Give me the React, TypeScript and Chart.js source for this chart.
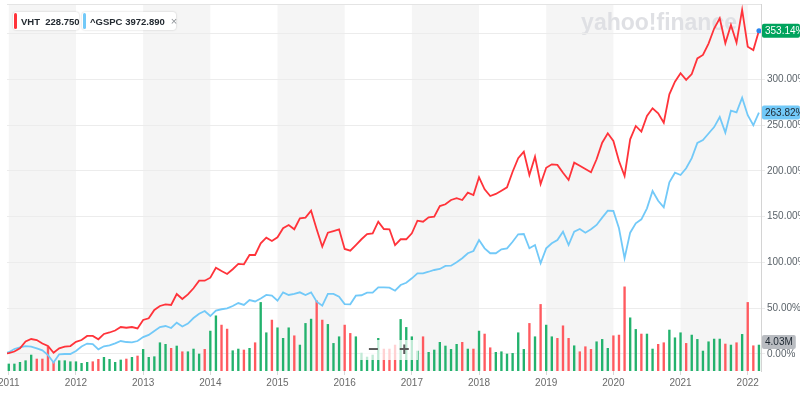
import React, { useEffect, useRef } from 'react';
import { Chart, registerables } from 'chart.js';

Chart.register(...registerables);

// ---- data (monthly, first value = Dec 2010 base, then Jan 2011 .. Mar 2022) ----
const yearLabels = ['2011', '2012', '2013', '2014', '2015', '2016', '2017', '2018', '2019', '2020', '2021', '2022'];
const firstMonthIndex = -1; // Dec 2010 (0 = Jan 2011)

const vhtPct = [
  0,
  1.0, 2.7, 6.2, 13.7, 16.4, 15.3, 11.5, 8.7, 1.4, 6.2, 8.0, 8.7,
  13.3, 15.3, 19.7, 19.7, 16.1, 21.9, 23.5, 25.7, 29.5, 28.7, 29.5, 27.9,
  37.2, 39.0, 48.1, 52.5, 54.3, 53.6, 65.6, 60.1, 65.2, 71.8, 80.1, 80.1,
  83.4, 94.3, 90.7, 87.4, 92.6, 98.4, 98.0, 108.2, 108.2, 121.0, 127.1, 123.5,
  127.5, 137.4, 141.0, 136.3, 148.3, 149.0, 156.6, 136.3, 117.3, 132.6, 134.4, 136.3,
  114.8, 112.9, 119.1, 125.4, 131.1, 131.9, 144.6, 136.6, 136.3, 119.1, 125.4, 125.4,
  131.9, 145.7, 144.6, 149.4, 150.1, 161.7, 163.6, 168.3, 170.2, 168.3, 176.3, 173.8,
  193.1, 180.0, 172.7, 174.9, 178.5, 182.2, 199.2, 213.9, 221.1, 195.6, 215.6, 185.8,
  203.5, 207.3, 206.6, 198.1, 190.2, 209.1, 205.8, 202.2, 198.6, 212.8, 230.9, 241.2,
  232.8, 210.9, 194.5, 234.6, 249.2, 243.0, 260.1, 268.5, 263.1, 252.8, 283.8, 297.6,
  306.8, 299.5, 306.0, 323.0, 326.8, 339.3, 355.7, 366.9, 339.6, 359.6, 340.2, 376.0,
  335.8, 332.2, 353.14,
];

const gspcPct = [
  0,
  2.0, 5.5, 7.3, 8.5, 8.1, 6.2, 4.0, -1.1, -9.3, -0.3, 0.0, 0.0,
  3.3, 8.2, 11.4, 10.9, 5.1, 8.4, 9.5, 11.6, 14.2, 13.1, 12.8, 14.2,
  18.5, 20.8, 25.1, 29.5, 30.6, 28.4, 34.2, 30.1, 33.3, 39.3, 44.0, 47.0,
  41.5, 47.5, 48.9, 49.8, 52.5, 55.7, 53.6, 59.0, 57.4, 60.7, 64.5, 63.8,
  58.3, 67.4, 64.5, 65.6, 67.4, 64.5, 67.4, 57.2, 52.8, 65.6, 65.6, 62.6,
  54.6, 54.3, 63.7, 64.2, 67.0, 67.0, 72.9, 72.9, 72.5, 69.2, 75.4, 77.9,
  82.7, 88.2, 88.2, 89.9, 91.8, 92.9, 96.2, 96.5, 100.2, 104.6, 110.1, 112.6,
  124.6, 115.5, 110.1, 110.1, 114.4, 115.5, 122.7, 130.8, 131.1, 115.5, 119.1, 99.1,
  115.5, 121.0, 124.6, 133.7, 119.1, 133.7, 136.6, 132.6, 136.3, 141.0, 149.0, 156.6,
  156.3, 137.4, 104.6, 132.6, 142.8, 147.2, 159.2, 178.1, 167.5, 160.3, 187.7, 198.1,
  195.6, 203.0, 214.0, 230.6, 233.9, 241.0, 248.0, 259.0, 242.0, 266.0, 264.0, 280.0,
  261.0, 250.0, 263.82,
];

// VHT monthly volume in millions, Jan 2011 .. Mar 2022
const volumeM = [
  1.09, 1.09, 1.35, 1.60, 2.48, 1.86, 1.86, 3.77, 1.35, 1.60, 1.60, 1.44,
  1.44, 1.19, 1.35, 1.44, 1.81, 2.12, 1.81, 1.35, 1.71, 1.86, 2.12, 2.33,
  3.36, 2.12, 2.22, 4.39, 4.14, 3.52, 3.88, 2.99, 2.99, 3.41, 2.64, 3.36,
  6.20, 8.57, 7.13, 6.51, 3.15, 3.41, 3.26, 3.52, 4.39, 10.65, 5.94, 7.91,
  6.71, 5.07, 6.71, 5.47, 4.03, 7.39, 8.06, 10.90, 7.91, 7.24, 4.29, 5.32,
  7.13, 5.84, 5.32, 2.79, 2.17, 2.48, 5.07, 3.41, 3.41, 4.03, 8.01, 6.77,
  5.32, 3.10, 5.32, 2.90, 3.26, 4.45, 3.88, 3.36, 4.14, 4.45, 3.41, 3.41,
  6.20, 5.74, 3.61, 2.90, 2.99, 2.64, 2.74, 5.94, 3.36, 7.39, 5.32, 10.34,
  7.13, 5.32, 5.07, 7.02, 5.07, 3.92, 2.99, 3.77, 3.36, 4.54, 4.91, 3.52,
  5.47, 5.58, 13.07, 8.26, 6.46, 5.74, 5.74, 3.41, 4.14, 4.39, 6.36, 5.16,
  5.94, 4.29, 5.58, 4.91, 3.10, 4.54, 4.96, 4.96, 4.19, 4.03, 4.39, 5.69,
  10.65, 3.92, 4.03,
];

// 1 = up month (green bar), 0 = down month (red bar)
const volumeUp = [
  1, 1, 1, 1, 1, 0, 0, 0, 0, 1, 1, 1,
  1, 1, 1, 0, 0, 1, 1, 1, 1, 0, 1, 0,
  1, 1, 1, 1, 1, 0, 1, 0, 1, 1, 1, 0,
  1, 1, 0, 0, 1, 1, 0, 1, 0, 1, 1, 0,
  1, 1, 1, 0, 1, 1, 1, 0, 0, 1, 1, 1,
  0, 0, 1, 1, 1, 1, 1, 0, 0, 0, 1, 1,
  1, 1, 0, 1, 1, 1, 1, 1, 1, 0, 1, 0,
  1, 0, 0, 1, 1, 1, 1, 1, 1, 0, 1, 0,
  1, 1, 0, 0, 0, 1, 0, 0, 0, 1, 1, 1,
  0, 0, 0, 1, 1, 0, 1, 1, 0, 0, 1, 1,
  1, 0, 1, 1, 1, 1, 1, 1, 0, 1, 0, 1,
  0, 0, 1,
];

const yTickValues = [0, 50, 100, 150, 200, 250, 300, 350];
const vhtName = 'VHT';
const vhtPrice = '228.750';
const gspcName = '^GSPC';
const gspcPrice = '3972.890';
const watermark = 'yahoo!finance';

// ---- styles ----
const RED = '#ff333a';
const BLUE = '#72c9f8';
const BAR_GREEN = '#23b26d';
const BAR_RED = '#ff5a5f';
const FONT = '"Liberation Sans", Arial, Helvetica, sans-serif';

const bandsPlugin = {
  id: 'bands',
  beforeDraw(chart: any) {
    const { ctx, chartArea, scales } = chart;
    const x = scales.x;
    ctx.save();
    ctx.fillStyle = '#f5f5f5';
    for (let i = 0; i < yearLabels.length; i += 2) {
      const a = Math.max(chartArea.left, x.getPixelForValue(i * 12));
      const b = Math.min(chartArea.right, x.getPixelForValue((i + 1) * 12));
      if (b > a) ctx.fillRect(a, chartArea.top, b - a, chartArea.bottom - chartArea.top);
    }
    ctx.strokeStyle = '#e4e4e4';
    ctx.lineWidth = 1;
    ctx.beginPath();
    ctx.moveTo(chartArea.left, chartArea.top + 0.5);
    ctx.lineTo(chartArea.right, chartArea.top + 0.5);
    ctx.stroke();
    ctx.font = `bold 23px ${FONT}`;
    ctx.fillStyle = '#dfe0e4';
    ctx.textAlign = 'right';
    ctx.textBaseline = 'alphabetic';
    ctx.fillText(watermark, chartArea.right - 24, chartArea.top + 26);
    ctx.restore();
  },
};

function badge(ctx: any, x: number, y: number, text: string, bg: string, fg: string, full: boolean) {
  ctx.font = `10px ${FONT}`;
  const w = ctx.measureText(text).width + 6;
  const h = 14;
  ctx.fillStyle = bg;
  const bw = full ? 800 - x : w;
  ctx.beginPath();
  if (ctx.roundRect) ctx.roundRect(x, y - h / 2, bw, h, 2);
  else ctx.rect(x, y - h / 2, bw, h);
  ctx.fill();
  ctx.fillStyle = fg;
  ctx.textAlign = 'left';
  ctx.textBaseline = 'middle';
  ctx.fillText(text, x + 3, y + 0.5);
}

const badgesPlugin = {
  id: 'badges',
  afterDraw(chart: any) {
    const { ctx, chartArea, scales } = chart;
    const x0 = chartArea.right + 1;
    ctx.save();
    const lastV = vhtPct[vhtPct.length - 1];
    const lastG = gspcPct[gspcPct.length - 1];
    const lastVol = volumeM[volumeM.length - 1];
    badge(ctx, x0, scales.y.getPixelForValue(lastG), lastG.toFixed(2) + '%', BLUE, '#1d2731', true);
    badge(ctx, x0, scales.y.getPixelForValue(lastV), lastV.toFixed(2) + '%', '#00a35d', '#ffffff', true);
    badge(ctx, x0, scales.yv.getPixelForValue(lastVol) - 3, lastVol.toFixed(2) + 'M', '#b9bcc1', '#1d2731', false);
    ctx.restore();
  },
};

export default function App() {
  const ref = useRef<HTMLCanvasElement>(null);

  useEffect(() => {
    document.body.style.margin = '0';
    const lastIdx = vhtPct.length - 1;
    const chart = new Chart(ref.current as HTMLCanvasElement, {
      type: 'line',
      data: {
        datasets: [
          {
            type: 'line',
            label: vhtName,
            data: vhtPct.map((v, i) => ({ x: i + firstMonthIndex, y: v })),
            borderColor: RED,
            borderWidth: 1.8,
            pointRadius: (c: any) => (c.dataIndex === lastIdx ? 2.5 : 0),
            pointBackgroundColor: '#2b86f0',
            pointBorderWidth: 0,
            tension: 0,
            yAxisID: 'y',
            order: 1,
          },
          {
            type: 'line',
            label: gspcName,
            data: gspcPct.map((v, i) => ({ x: i + firstMonthIndex, y: v })),
            borderColor: BLUE,
            borderWidth: 1.8,
            pointRadius: 0,
            tension: 0,
            yAxisID: 'y',
            order: 2,
          },
          {
            type: 'bar',
            label: 'Volume',
            data: volumeM.map((v, i) => ({ x: i, y: v })),
            backgroundColor: volumeUp.map((u) => (u ? BAR_GREEN : BAR_RED)),
            barThickness: 1.7,
            yAxisID: 'yv',
            order: 3,
          } as any,
        ],
      },
      options: {
        responsive: false,
        animation: false,
        devicePixelRatio: 1,
        events: [],
        layout: { padding: { left: 7, top: 4, right: 0, bottom: 0 } },
        plugins: { legend: { display: false }, tooltip: { enabled: false } },
        scales: {
          x: {
            type: 'linear',
            offset: false,
            min: -0.32,
            max: 134.37,
            afterBuildTicks: (s: any) => {
              s.ticks = yearLabels.map((_, i) => ({ value: i * 12 }));
            },
            afterFit: (s: any) => {
              s.height = 25;
              s.paddingLeft = 0;
              s.paddingRight = 0;
            },
            ticks: {
              callback: (v: any) => yearLabels[Math.round(Number(v) / 12)],
              autoSkip: false,
              maxRotation: 0,
              padding: 2,
              color: '#6a6a6a',
              font: { family: FONT, size: 10 },
            },
            grid: { offset: false, drawOnChartArea: false, tickLength: 4, color: '#d8d8d8' },
            border: { display: false },
          },
          y: {
            type: 'linear',
            position: 'right',
            min: -18.58,
            max: 382.5,
            afterBuildTicks: (s: any) => {
              s.ticks = yTickValues.map((v) => ({ value: v }));
            },
            afterFit: (s: any) => {
              s.width = 39;
              s.paddingTop = 0;
              s.paddingBottom = 0;
            },
            ticks: {
              callback: (v: any) => (Number(v) > 300 ? '' : Number(v).toFixed(2) + '%'),
              padding: 2,
              color: '#5b636a',
              font: { family: FONT, size: 10 },
            },
            grid: { color: '#ececec', tickLength: 4 },
            border: { color: '#d4d4d4' },
          },
          yv: {
            type: 'linear',
            display: false,
            min: 0,
            max: 57,
          },
        },
      } as any,
      plugins: [bandsPlugin, badgesPlugin],
    });
    return () => chart.destroy();
  }, []);

  const boxStyle: React.CSSProperties = {
    position: 'absolute',
    top: 12,
    height: 18,
    background: '#ffffff',
    borderRadius: 3,
    boxShadow: '0 0 2px rgba(0,0,0,0.22)',
    display: 'flex',
    alignItems: 'center',
    whiteSpace: 'nowrap',
    fontFamily: FONT,
    fontSize: 9.5,
    fontWeight: 700,
    color: '#232a31',
  };
  const barStyle = (c: string): React.CSSProperties => ({
    width: 3,
    height: 16,
    borderRadius: 2,
    background: c,
    marginLeft: 1,
    flex: 'none',
  });

  return (
    <div style={{ position: 'relative', width: 800, height: 396, overflow: 'hidden', background: '#fff' }}>
      <canvas ref={ref} width={800} height={396} style={{ display: 'block', width: 800, height: 396 }} />
      <div style={{ ...boxStyle, left: 13, width: 66 }}>
        <span style={barStyle(RED)} />
        <span style={{ marginLeft: 4 }}>{vhtName}&nbsp;&nbsp;{vhtPrice}</span>
      </div>
      <div style={{ ...boxStyle, left: 82, width: 94 }}>
        <span style={barStyle(BLUE)} />
        <span style={{ marginLeft: 4 }}>{gspcName}&nbsp;{gspcPrice}</span>
        <span style={{ marginLeft: 6, color: '#8a8f94', fontWeight: 400, fontSize: 11 }}>×</span>
      </div>
      <div
        style={{
          position: 'absolute',
          left: 360,
          top: 340,
          width: 58,
          height: 20,
          background: 'rgba(255,255,255,0.72)',
          fontFamily: FONT,
          fontWeight: 700,
          fontSize: 18,
          color: '#5a5a5a',
          lineHeight: '20px',
        }}
      >
        <span style={{ position: 'absolute', left: 8, top: -1 }}>−</span>
        <span style={{ position: 'absolute', left: 39, top: -1 }}>+</span>
      </div>
    </div>
  );
}
